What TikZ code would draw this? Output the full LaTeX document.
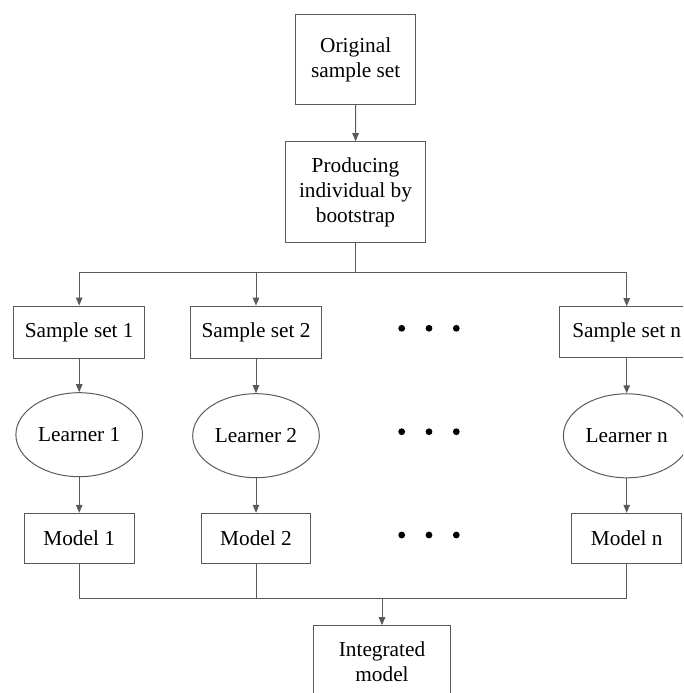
\documentclass[tikz,border=0pt]{standalone}
\usepackage{fontspec}
\setmainfont{Liberation Serif}
\usetikzlibrary{arrows.meta,shapes.geometric}
\definecolor{ln}{HTML}{5A5A5A}
\tikzset{
  base/.style={draw=ln, line width=1pt, inner sep=0pt, align=center,
    font=\fontsize{21.3}{25}\selectfont, text=black},
  box/.style={base, rectangle},
  oval/.style={base, ellipse, minimum width=126.6pt, minimum height=84pt},
  conn/.style={draw=ln, line width=1pt},
  arr/.style={conn, -{Triangle[length=8pt,width=6.5pt]}},
  dot/.style={circle, fill=black, inner sep=0pt, minimum size=6.8pt}
}
\begin{document}
\begin{tikzpicture}[x=1pt,y=-1pt]
\useasboundingbox (0,0) rectangle (683,693);
\clip (0,0) rectangle (683,693);
\node[box, minimum width=120pt, minimum height=89.6pt] (orig) at (355.7,59.5) {Original\\sample set};
\node[box, minimum width=140.4pt, minimum height=100.6pt] (prod) at (355.5,192) {Producing\\individual by\\bootstrap};
\node[box, minimum width=131.3pt, minimum height=52.3pt] (ss1) at (79.2,332.2) {Sample set 1};
\node[box, minimum width=130.3pt, minimum height=52.3pt] (ss2) at (256,332.2) {Sample set 2};
\node[box, minimum width=134.8pt, minimum height=50.6pt] (ssn) at (626.7,332) {Sample set n};
\node[oval] (l1) at (79.2,434.7) {Learner 1};
\node[oval] (l2) at (256,435.7) {Learner 2};
\node[oval] (ln) at (626.7,435.8) {Learner n};
\node[box, minimum width=110pt, minimum height=50pt] (m1) at (79.2,538.3) {Model 1};
\node[box, minimum width=109.7pt, minimum height=50pt] (m2) at (256,538.3) {Model 2};
\node[box, minimum width=110pt, minimum height=50pt] (mn) at (626.7,538.3) {Model n};
\node[box, minimum width=137.4pt, minimum height=72pt] (int) at (382,661.7) {Integrated\\model};
\foreach \yy/\nm in {328.3/a,431.7/b,535/c}{
  \node[dot] (d\nm1) at (401.7,\yy) {};
  \node[dot] (d\nm2) at (429,\yy) {};
  \node[dot] (d\nm3) at (456.3,\yy) {};
}
\coordinate (top) at (355.5,272.3);
\coordinate (bot) at (382,598.3);
\draw[arr] (orig) -- (prod);
\draw[conn] (prod.south) -- (top);
\draw[arr] (top) -| (ss1.north);
\draw[arr] (top) -| (ss2.north);
\draw[arr] (top) -| (ssn.north);
\draw[arr] (ss1) -- (l1);
\draw[arr] (ss2) -- (l2);
\draw[arr] (ssn) -- (ln);
\draw[arr] (l1) -- (m1);
\draw[arr] (l2) -- (m2);
\draw[arr] (ln) -- (mn);
\draw[conn] (m1.south) |- (bot);
\draw[conn] (mn.south) |- (bot);
\draw[conn] (m2.south) -- (m2.south |- bot);
\draw[arr] (bot) -- (int.north);
\end{tikzpicture}
\end{document}
